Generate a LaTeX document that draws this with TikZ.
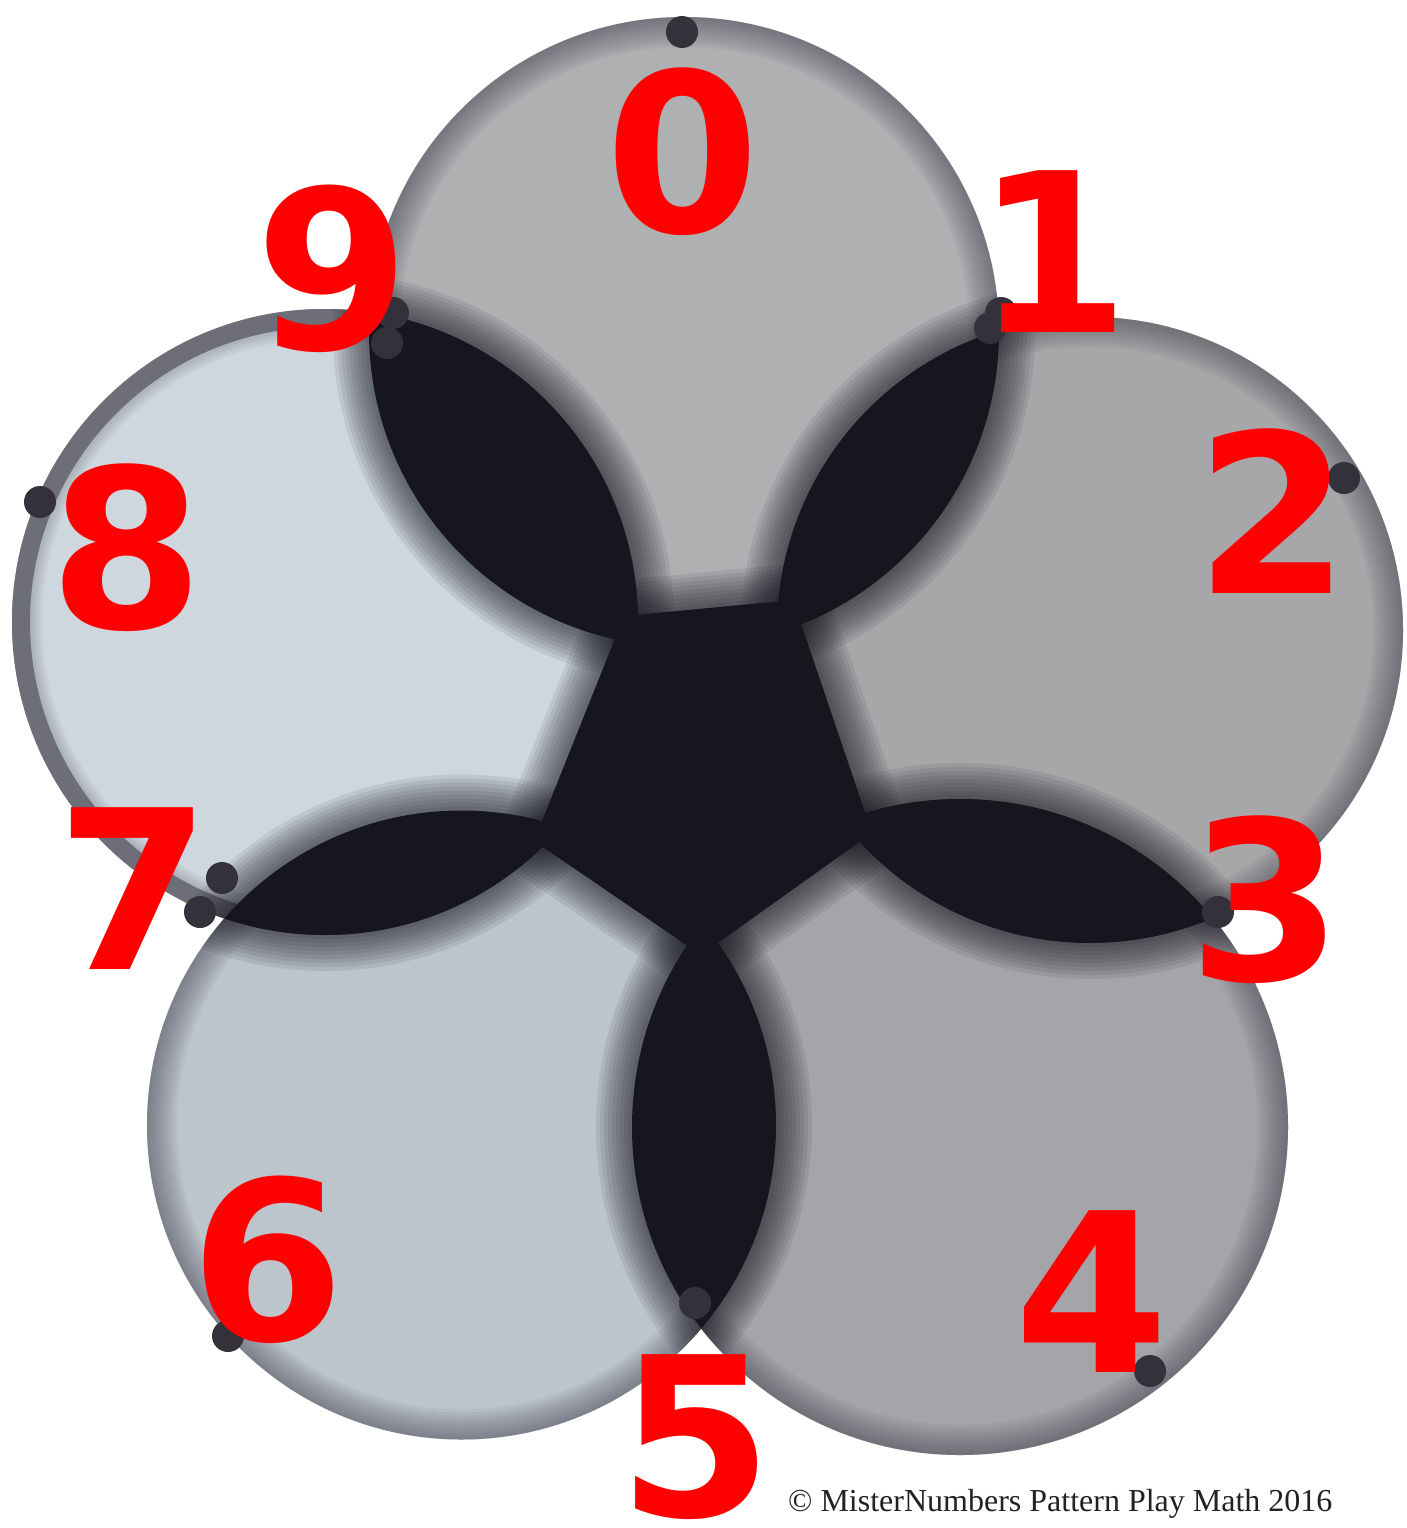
\documentclass[tikz,border=0pt]{standalone}
\usepackage{fontspec}
\setmainfont{Liberation Serif}
\newfontfamily\digitfont{DejaVu Sans}
\definecolor{fillA}{HTML}{AEB0B2}
\definecolor{fillB}{HTML}{A7A7A9}
\definecolor{fillC}{HTML}{A4A5A8}
\definecolor{fillD}{HTML}{BCC5CC}
\definecolor{fillE}{HTML}{CED7DE}
\definecolor{ringcol}{HTML}{3E3C4A}
\definecolor{leftring}{HTML}{6E6E78}
\definecolor{inkcol}{HTML}{17161E}
\definecolor{dotcol}{HTML}{34313A}
\definecolor{textcol}{HTML}{222222}
\begin{document}
\begin{tikzpicture}[x=1pt,y=-1pt,
  digit/.style={text=red, font=\digitfont\bfseries\fontsize{222}{222}\selectfont, inner sep=0pt, anchor=center},
  dotmark/.style={circle, fill=dotcol, inner sep=0pt, minimum size=32pt},
  note/.style={text=textcol, font=\fontsize{32}{36}\selectfont, inner sep=0pt, anchor=base west}]
\useasboundingbox (0,0) rectangle (1407,1528);
\fill[white] (0,0) rectangle (1407,1528);
% circle centres
\coordinate (c0) at (684,332);
\coordinate (c2) at (1090,630);
\coordinate (c4) at (960,1127);
\coordinate (c6) at (461.5,1125);
\coordinate (c8) at (325,622);
\coordinate (ctr) at (706,768);
% central pentagon
\coordinate (v1) at (793,600);
\coordinate (v2) at (872,833);
\coordinate (v3) at (701,955);
\coordinate (v4) at (534,841);
\coordinate (v5) at (624,616);
% grey discs with blurred dark rims
\foreach \cc/\rr/\fc in {c0/315/fillA, c2/313/fillB, c4/328/fillC, c6/314.5/fillD, c8/313/fillE} {
  \fill[\fc] (\cc) circle[radius=\rr pt];
  \begin{scope}
    \clip (\cc) circle[radius=\rr pt];
    \foreach \ww in {6,12,...,60} {
      \draw[ringcol, opacity=0.06, line width=\ww pt] (\cc) circle[radius=\rr pt];
    }
  \end{scope}
}
\draw[leftring, line width=18pt] (c8) circle[radius=304pt];
% black overlaps and centre
\begin{scope}
  \clip (c0) circle[radius=315pt] (c2) circle[radius=313pt] (c4) circle[radius=328pt]
        (c6) circle[radius=314.5pt] (c8) circle[radius=313pt] (ctr) circle[radius=200pt];
  \foreach \hh/\ww in {36/72, 32/64, 28/56, 24/48, 20/40, 16/32, 12/24, 8/16, 4/8} {
    \foreach \pa/\qa/\pb/\qb in {c0/315/c2/313, c2/313/c4/328, c4/328/c6/314.5, c6/314.5/c8/313, c8/313/c0/315} {
      \begin{scope}
        \clip (\pa) circle[radius=\qa pt+\hh pt];
        \fill[inkcol, opacity=0.085] (\pb) circle[radius=\qb pt+\hh pt];
      \end{scope}
    }
    \draw[inkcol, opacity=0.085, line width=\ww pt, line join=round] (v1)--(v2)--(v3)--(v4)--(v5)--cycle;
  }
  \foreach \pa/\qa/\pb/\qb in {c0/315/c2/313, c2/313/c4/328, c4/328/c6/314.5, c6/314.5/c8/313, c8/313/c0/315} {
    \begin{scope}
      \clip (\pa) circle[radius=\qa pt];
      \fill[inkcol] (\pb) circle[radius=\qb pt];
    \end{scope}
  }
  \fill[inkcol] (v1)--(v2)--(v3)--(v4)--(v5)--cycle;
\end{scope}
% dots
\node[dotmark] (p0) at (682,32) {};
\node[dotmark] (p1) at (990,328) {};
\node[dotmark] (p1b) at (1001,313) {};
\node[dotmark] (p2) at (1344,478) {};
\node[dotmark] (p3) at (1218,912) {};
\node[dotmark] (p4) at (1150,1371) {};
\node[dotmark] (p5) at (695,1303) {};
\node[dotmark] (p6) at (228,1336) {};
\node[dotmark] (p7) at (200,912) {};
\node[dotmark] (p7b) at (222,878) {};
\node[dotmark] (p8) at (40,502) {};
\node[dotmark] (p9) at (393,313) {};
\node[dotmark] (p9b) at (387,343) {};
% digits
\node[digit] (d0) at (683,152) {0};
\node[digit] (d1) at (1053,252) {1};
\node[digit] (d2) at (1273,511) {2};
\node[digit] (d3) at (1266,900) {3};
\node[digit] (d4) at (1092,1292) {4};
\node[digit] (d5) at (696,1437) {5};
\node[digit] (d6) at (268,1260) {6};
\node[digit] (d7) at (134,889) {7};
\node[digit] (d8) at (127,548) {8};
\node[digit] (d9) at (333,269) {9};
% copyright
\node[note] (copy) at (788,1511) {© MisterNumbers Pattern Play Math 2016};
\end{tikzpicture}
\end{document}
